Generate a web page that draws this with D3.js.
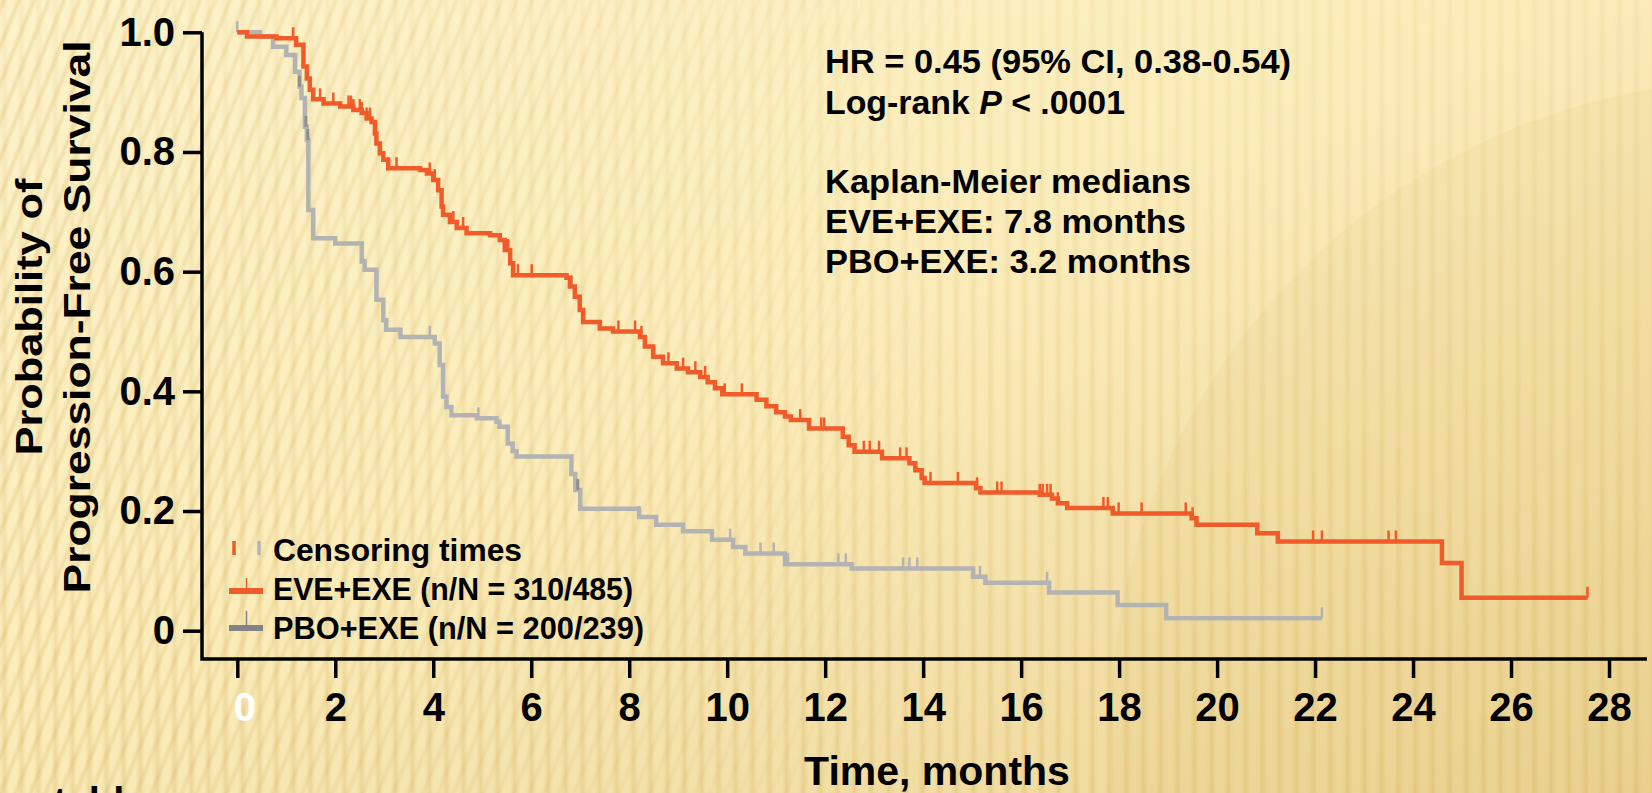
<!DOCTYPE html>
<html>
<head>
<meta charset="utf-8">
<script src="https://cdn.jsdelivr.net/npm/d3@7"></script>
<style>
  body { margin: 0; background: #fcefc2; }
  svg { display: block; }
  text { font-family: "Liberation Sans", Arial, sans-serif; font-weight: bold; }
</style>
</head>
<body>
<script>
const W = 1652
const H = 793

// Kaplan-Meier steps [months, probability]
const eveSteps = [
	[0, 1.0], [0.2, 0.993], [0.8, 0.99], [1.2, 0.979], [1.35, 0.943], [1.42, 0.923],
	[1.48, 0.904], [1.55, 0.888], [1.76, 0.881], [2.1, 0.876], [2.37, 0.87], [2.54, 0.865],
	[2.64, 0.856], [2.74, 0.85], [2.81, 0.831], [2.84, 0.814], [2.91, 0.798], [2.98, 0.787],
	[3.08, 0.773], [3.73, 0.77], [3.87, 0.764], [4.0, 0.753], [4.1, 0.736], [4.17, 0.709],
	[4.2, 0.695], [4.34, 0.683], [4.48, 0.673], [4.68, 0.664], [5.16, 0.661], [5.36, 0.653],
	[5.46, 0.636], [5.57, 0.614], [5.63, 0.594], [6.72, 0.59], [6.79, 0.575], [6.89, 0.558],
	[6.99, 0.536], [7.06, 0.516], [7.4, 0.505], [7.67, 0.5], [8.22, 0.491], [8.32, 0.475],
	[8.49, 0.458], [8.69, 0.447], [8.97, 0.438], [9.2, 0.432], [9.45, 0.424], [9.6, 0.415],
	[9.75, 0.405], [9.9, 0.395], [10.6, 0.386], [10.8, 0.375], [11.0, 0.365], [11.18, 0.358],
	[11.3, 0.352], [11.67, 0.338], [12.36, 0.324], [12.48, 0.31], [12.6, 0.299], [13.16, 0.288],
	[13.72, 0.28], [13.84, 0.268], [13.97, 0.255], [14.03, 0.247], [15.08, 0.238], [15.17, 0.231],
	[16.38, 0.227], [16.63, 0.221], [16.75, 0.213], [16.94, 0.205], [17.87, 0.196], [19.48, 0.188],
	[19.58, 0.177], [20.82, 0.163], [21.24, 0.149], [24.59, 0.113], [24.99, 0.055], [27.56, 0.055]
]
const pboSteps = [
	[0, 1.0], [0.46, 0.993], [0.73, 0.976], [1.0, 0.962], [1.18, 0.934], [1.27, 0.909],
	[1.31, 0.89], [1.38, 0.842], [1.42, 0.82], [1.45, 0.703], [1.55, 0.656], [2.0, 0.647],
	[2.54, 0.617], [2.6, 0.603], [2.84, 0.553], [2.98, 0.519], [3.04, 0.503], [3.33, 0.491],
	[4.03, 0.48], [4.13, 0.444], [4.2, 0.391], [4.27, 0.374], [4.37, 0.36], [4.89, 0.355],
	[5.29, 0.349], [5.35, 0.341], [5.52, 0.313], [5.62, 0.3], [5.7, 0.291], [6.82, 0.262],
	[6.9, 0.235], [7.0, 0.204], [8.2, 0.19], [8.55, 0.177], [9.1, 0.166], [9.69, 0.152],
	[10.12, 0.14], [10.37, 0.129], [11.18, 0.111], [12.54, 0.104], [15.02, 0.09], [15.27, 0.08],
	[16.57, 0.064], [17.97, 0.043], [18.96, 0.021], [22.14, 0.021]
]

// censoring times (months)
const eveCensor = [1.14, 1.69, 1.96, 2.27, 2.32, 2.37, 2.5, 2.54, 2.64, 2.71, 3.08, 3.25,
	3.93, 4.03, 4.41, 4.61, 5.46, 5.53, 5.73, 6.01, 6.82, 7.78, 8.12, 8.25, 8.8, 9.1, 9.35,
	9.55, 9.95, 10.3, 11.49, 11.92, 11.98, 12.79, 12.91, 13.1, 13.53, 13.66, 14.15, 14.71,
	15.1, 15.51, 15.6, 16.38, 16.44, 16.53, 16.6, 16.75, 17.68, 17.77, 17.99, 18.46, 19.36,
	19.5, 21.96, 22.14, 23.5, 23.65, 27.56]
const pboCensor = [0, 2.61, 3.93, 4.92, 8.2, 10.06, 10.68, 10.95, 11.24, 12.27, 12.42,
	13.59, 13.72, 13.88, 15.16, 16.53, 22.14]
const pboCensorDark = [1.27, 1.4, 1.44, 6.95]

const xTickValues = [0, 2, 4, 6, 8, 10, 12, 14, 16, 18, 20, 22, 24, 26, 28]
const yTickValues = [0, 0.2, 0.4, 0.6, 0.8, 1.0]
const yTickLabels = ["0", "0.2", "0.4", "0.6", "0.8", "1.0"]

const legendLabels = ["Censoring times", "EVE+EXE (n/N = 310/485)", "PBO+EXE (n/N = 200/239)"]
const noteLines = ["HR = 0.45 (95% CI, 0.38-0.54)", "Log-rank |P| < .0001", "",
	"Kaplan-Meier medians", "EVE+EXE: 7.8 months", "PBO+EXE: 3.2 months"]

const orange = "#f15a29"
const grey = "#b3b3b3"
const greyDark = "#828387"

const svg = d3.select("body").append("svg")
	.attr("width", W)
	.attr("height", H)

// ---------- background ----------
const defs = svg.append("defs")

let bg = defs.append("linearGradient").attr("id", "bg")
	.attr("x1", 0).attr("y1", 0).attr("x2", 1).attr("y2", 1)
bg.append("stop").attr("offset", 0).attr("stop-color", "#fdf2c9")
bg.append("stop").attr("offset", 0.45).attr("stop-color", "#fbedbb")
bg.append("stop").attr("offset", 1).attr("stop-color", "#ecd394")

let sg = defs.append("linearGradient").attr("id", "stripeGrad")
sg.append("stop").attr("offset", 0).attr("stop-color", "#c9a24a").attr("stop-opacity", 0)
sg.append("stop").attr("offset", 0.5).attr("stop-color", "#c9a24a").attr("stop-opacity", 0.24)
sg.append("stop").attr("offset", 1).attr("stop-color", "#c9a24a").attr("stop-opacity", 0)

defs.append("pattern").attr("id", "vstripes")
	.attr("patternUnits", "userSpaceOnUse")
	.attr("width", 17).attr("height", H)
	.append("rect").attr("width", 9).attr("height", H).attr("fill", "url(#stripeGrad)")

defs.append("pattern").attr("id", "dstripes")
	.attr("patternUnits", "userSpaceOnUse")
	.attr("width", 14).attr("height", 40)
	.attr("patternTransform", "rotate(22)")
	.append("rect").attr("width", 7).attr("height", 40).attr("fill", "url(#stripeGrad)")

let fadeV = defs.append("linearGradient").attr("id", "fadeV")
	.attr("x1", 0).attr("y1", 0).attr("x2", 0).attr("y2", 1)
fadeV.append("stop").attr("offset", 0).attr("stop-color", "#fff").attr("stop-opacity", 0.35)
fadeV.append("stop").attr("offset", 0.6).attr("stop-color", "#fff").attr("stop-opacity", 0.7)
fadeV.append("stop").attr("offset", 1).attr("stop-color", "#fff").attr("stop-opacity", 1)
defs.append("mask").attr("id", "maskV")
	.append("rect").attr("width", W).attr("height", H).attr("fill", "url(#fadeV)")

let fadeD = defs.append("linearGradient").attr("id", "fadeD")
fadeD.append("stop").attr("offset", 0).attr("stop-color", "#fff").attr("stop-opacity", 1)
fadeD.append("stop").attr("offset", 0.4).attr("stop-color", "#fff").attr("stop-opacity", 0.4)
fadeD.append("stop").attr("offset", 0.6).attr("stop-color", "#fff").attr("stop-opacity", 0)
defs.append("mask").attr("id", "maskD")
	.append("rect").attr("width", W).attr("height", H).attr("fill", "url(#fadeD)")

svg.append("rect").attr("width", W).attr("height", H).attr("fill", "url(#bg)")
svg.append("circle")
	.attr("cx", 1760).attr("cy", 730).attr("r", 650)
	.attr("fill", "#d9b860").attr("opacity", 0.1)
svg.append("rect").attr("width", W).attr("height", H)
	.attr("fill", "url(#vstripes)").attr("mask", "url(#maskV)")
svg.append("rect").attr("width", W).attr("height", H)
	.attr("fill", "url(#dstripes)").attr("mask", "url(#maskD)")

// ---------- scales ----------
const x = d3.scaleLinear().domain([0, 28]).range([237.3, 1609])
const y = d3.scaleLinear().domain([0, 1]).range([630.7, 32.3])
const axisX = 202
const axisY = 659

// ---------- axes ----------
let yAxis = d3.axisLeft(y)
	.tickValues(yTickValues)
	.tickFormat((d, i) => yTickLabels[i])
	.tickSize(19)
	.tickPadding(8)

let gy = svg.append("g")
	.attr("transform", "translate(" + axisX + ",0)")
	.call(yAxis)
gy.select(".domain").remove()
gy.selectAll("line").attr("stroke", "#000").attr("stroke-width", 3.5)
gy.selectAll("text")
	.attr("font-size", 40)
	.attr("font-family", "Liberation Sans, Arial, sans-serif")
	.attr("font-weight", "bold")
	.attr("fill", "#000")

let xAxis = d3.axisBottom(x)
	.tickValues(xTickValues)
	.tickSize(19)
	.tickPadding(15)

let gx = svg.append("g")
	.attr("transform", "translate(0," + axisY + ")")
	.call(xAxis)
gx.select(".domain").remove()
gx.selectAll("line").attr("stroke", "#000").attr("stroke-width", 3.5)
gx.selectAll("text")
	.attr("font-size", 40)
	.attr("font-family", "Liberation Sans, Arial, sans-serif")
	.attr("font-weight", "bold")
	.attr("fill", d => d === 0 ? "#fff" : "#000")
	.attr("dx", d => d === 0 ? 7 : 0)

// L-shaped frame
svg.append("path")
	.attr("d", "M" + axisX + "," + y(1) + "V" + axisY + "H" + (x(28) + 38))
	.attr("fill", "none")
	.attr("stroke", "#000")
	.attr("stroke-width", 3.5)

// ---------- curves ----------
let line = d3.line()
	.x(d => x(d[0]))
	.y(d => y(d[1]))
	.curve(d3.curveStepAfter)

let survAt = function(steps, t) {
	let p = steps[0][1]
	for (let s of steps) {
		if (s[0] <= t) p = s[1]
	}
	return p
}

let drawCensor = function(times, steps, color, width) {
	svg.append("g").selectAll("line")
		.data(times)
		.enter()
		.append("line")
		.attr("x1", d => x(d))
		.attr("x2", d => x(d))
		.attr("y1", d => y(survAt(steps, d)))
		.attr("y2", d => y(survAt(steps, d)) - 11)
		.attr("stroke", color)
		.attr("stroke-width", width)
}

svg.append("path")
	.datum(pboSteps)
	.attr("d", line)
	.attr("fill", "none")
	.attr("stroke", grey)
	.attr("stroke-width", 4.5)
drawCensor(pboCensor, pboSteps, grey, 2.5)
drawCensor(pboCensorDark, pboSteps, "#8e8e8e", 3)

svg.append("path")
	.datum(eveSteps)
	.attr("d", line)
	.attr("fill", "none")
	.attr("stroke", orange)
	.attr("stroke-width", 4.5)
drawCensor(eveCensor, eveSteps, orange, 2.5)

// ---------- legend ----------
const legend = svg.append("g")
legend.append("line").attr("x1", 234).attr("x2", 234).attr("y1", 541).attr("y2", 555)
	.attr("stroke", orange).attr("stroke-width", 3.5)
legend.append("line").attr("x1", 259).attr("x2", 259).attr("y1", 541).attr("y2", 555)
	.attr("stroke", grey).attr("stroke-width", 3.5)
legend.append("line").attr("x1", 229).attr("x2", 263).attr("y1", 591).attr("y2", 591)
	.attr("stroke", orange).attr("stroke-width", 6)
legend.append("line").attr("x1", 246.5).attr("x2", 246.5).attr("y1", 578).attr("y2", 591)
	.attr("stroke", orange).attr("stroke-width", 1.5)
legend.append("line").attr("x1", 229).attr("x2", 263).attr("y1", 628).attr("y2", 628)
	.attr("stroke", greyDark).attr("stroke-width", 6)
legend.append("line").attr("x1", 246.5).attr("x2", 246.5).attr("y1", 611).attr("y2", 628)
	.attr("stroke", greyDark).attr("stroke-width", 1.5)

const legendBase = [560.7, 600, 638.5]
const legendWidth = [249, 360, 371]
legend.selectAll("text.leg")
	.data(legendLabels)
	.enter()
	.append("text")
	.attr("class", "leg")
	.attr("x", 273)
	.attr("y", (d, i) => legendBase[i])
	.attr("font-size", 31)
	.attr("textLength", (d, i) => legendWidth[i])
	.attr("lengthAdjust", "spacingAndGlyphs")
	.text(d => d)

// ---------- annotation ----------
const noteBase = [72.7, 114, 0, 193, 233, 273]
const noteWidth = [466, 300, 0, 366, 361, 366]
noteLines.forEach((t, i) => {
	if (t === "") return
	let el = svg.append("text")
		.attr("x", 825)
		.attr("y", noteBase[i])
		.attr("font-size", 34)
		.attr("textLength", noteWidth[i])
		.attr("lengthAdjust", "spacingAndGlyphs")
	let parts = t.split("|")
	parts.forEach((p, j) => {
		el.append("tspan")
			.attr("font-style", j === 1 ? "italic" : "normal")
			.text(p)
	})
})

// ---------- axis titles ----------
svg.append("text")
	.attr("x", 937)
	.attr("y", 785)
	.attr("text-anchor", "middle")
	.attr("font-size", 41)
	.text("Time, months")

const yTitle = ["Probability of", "Progression-Free Survival"]
const yTitleLen = [277, 553]
const yTitleX = [41.5, 89.5]
yTitle.forEach((t, i) => {
	svg.append("text")
		.attr("transform", "translate(" + yTitleX[i] + ",317) rotate(-90)")
		.attr("text-anchor", "middle")
		.attr("font-size", 37)
		.attr("textLength", yTitleLen[i])
		.attr("lengthAdjust", "spacingAndGlyphs")
		.text(t)
})

// cut-off text line below the slide edge
svg.append("text")
	.attr("x", 31)
	.attr("y", 816)
	.attr("font-size", 40)
	.text("stable")
</script>
</body>
</html>
